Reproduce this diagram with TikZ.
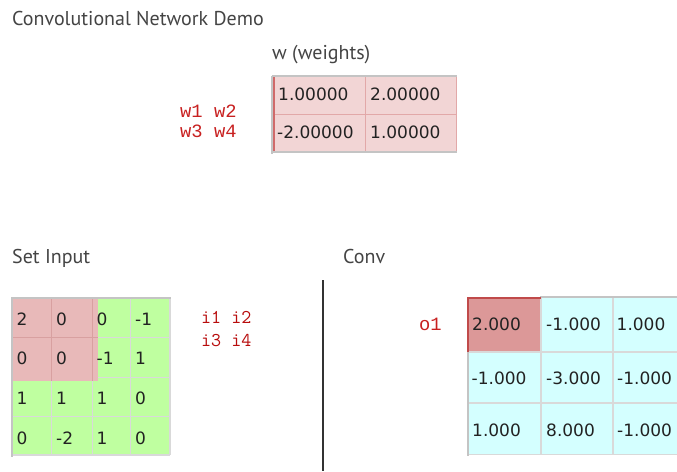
\documentclass[tikz,border=0pt]{standalone}
\usepackage{fontspec}
\newfontfamily\titlefont{PT Sans}
\newfontfamily\cellfont{DejaVu Sans}
\newfontfamily\labfont{Liberation Mono}
\definecolor{titlegray}{HTML}{444444}
\definecolor{celltext}{HTML}{222222}
\definecolor{labred}{HTML}{C82020}
\definecolor{ilabred}{HTML}{B80C0C}
\definecolor{wpink}{HTML}{F2D5D5}
\definecolor{wline}{HTML}{E2A8A8}
\definecolor{wred}{HTML}{D06A6A}
\definecolor{ingreen}{HTML}{BFFFA0}
\definecolor{inpink}{HTML}{E8B9B9}
\definecolor{inpinkline}{HTML}{D8A0A0}
\definecolor{gridgray}{HTML}{D9D9D9}
\definecolor{bordgray}{HTML}{C4C4C4}
\definecolor{convcyan}{HTML}{D4FFFF}
\definecolor{convpink}{HTML}{DC9898}
\definecolor{convred}{HTML}{C04A4A}
\definecolor{sepline}{HTML}{333333}
\begin{document}
\begin{tikzpicture}[x=1pt,y=-1pt,
  ttl/.style={anchor=base west, inner sep=0pt, text=titlegray, font=\titlefont\fontsize{20}{24}\selectfont},
  cell/.style={anchor=base west, inner sep=0pt, text=celltext, font=\cellfont\fontsize{17}{20}\selectfont},
  wlab/.style={anchor=base west, inner sep=0pt, text=labred, font=\labfont\fontsize{18.8}{21}\selectfont},
  ilab/.style={anchor=base west, inner sep=0pt, text=ilabred, font=\ttfamily\fontsize{19.5}{22}\selectfont},
  grid/.style={draw=gridgray, line width=1.2pt},
  bord/.style={draw=bordgray, line width=2pt},
]
\useasboundingbox[fill=white] (0,0) rectangle (677,471);

% titles
\node[ttl] (title) at (12,25.5) {Convolutional Network Demo};
\node[ttl] (wtitle) at (272,59) {w (weights)};
\node[ttl] (intitle) at (12,263) {Set Input};
\node[ttl] (convtitle) at (343,263) {Conv};

% ---------- weights table ----------
\fill[wpink] (272,76) rectangle (457,152);
\draw[draw=wline, line width=1.2pt] (365.5,76) -- (365.5,152);
\draw[draw=wline, line width=1.2pt] (272,114.3) -- (457,114.3);
\draw[draw=wline, line width=1.2pt] (456.5,76) -- (456.5,152);
\draw[bord, line width=1.5pt] (272,76) -- (457,76);
\draw[bord, line width=1.5pt] (272,152) -- (457,152);
\draw[bord, line width=1.2pt] (272,76) -- (272,154);
\draw[draw=wred, line width=2pt] (274,77) -- (274,151);
\node[cell] (w11) at (278,100.5) {1.00000};
\node[cell] (w12) at (370,100.5) {2.00000};
\node[cell] (w21) at (277,138) {-2.00000};
\node[cell] (w22) at (370,138) {1.00000};

\node[wlab] (wl1) at (180,117.3) {w1 w2};
\node[wlab] (wl2) at (180,137.3) {w3 w4};

% ---------- input table ----------
\fill[ingreen] (12,298) rectangle (170,455);
\foreach \x in {51.7,92.3,130.7,170}{\draw[grid] (\x,298) -- (\x,455);}
\foreach \y in {337.7,377.7,416.7,455}{\draw[grid] (12,\y) -- (170,\y);}
\fill[inpink] (12,298) rectangle (97.7,380.5);
\draw[draw=inpinkline, line width=1.2pt] (51.7,298) -- (51.7,380.5);
\draw[draw=inpinkline, line width=1.2pt] (92.3,298) -- (92.3,380.5);
\draw[draw=inpinkline, line width=1.2pt] (12,337.7) -- (97.7,337.7);
\draw[bord] (11,298) -- (171,298);
\draw[bord] (12,297) -- (12,457);

\foreach \v [count=\c] in {2,0,0,-1}{
  \pgfmathsetmacro\xx{{16.5,56,96.5,135}[\c-1]}
  \node[cell] (in1\c) at (\xx,325) {\v};}
\foreach \v [count=\c] in {0,0,-1,1}{
  \pgfmathsetmacro\xx{{16.5,56,96.5,135}[\c-1]}
  \node[cell] (in2\c) at (\xx,364) {\v};}
\foreach \v [count=\c] in {1,1,1,0}{
  \pgfmathsetmacro\xx{{16.5,56,96.5,135}[\c-1]}
  \node[cell] (in3\c) at (\xx,404) {\v};}
\foreach \v [count=\c] in {0,-2,1,0}{
  \pgfmathsetmacro\xx{{16.5,56,96.5,135}[\c-1]}
  \node[cell] (in4\c) at (\xx,444) {\v};}

\node[ilab] (il1) at (201,323.3) {i1 i2};
\node[ilab] (il2) at (201,346.7) {i3 i4};

% ---------- separator ----------
\coordinate (septop) at (323.3,280);
\coordinate (sepbot) at (323.3,471);
\draw[draw=sepline, line width=2pt] (septop) -- (sepbot);

% ---------- conv table ----------
\fill[convcyan] (467,297) rectangle (677,455);
\fill[convpink] (467,297) rectangle (541,352);
\foreach \x in {541,613}{\draw[grid] (\x,297) -- (\x,455);}
\foreach \y in {352,403,454.5}{\draw[grid] (467,\y) -- (677,\y);}
\draw[bord] (540,297) -- (677,297);
\draw[bord] (467.5,351) -- (467.5,456);
\draw[draw=convred, line width=2pt] (467.5,352) -- (467.5,297.5) -- (541,297.5);

\node[cell] (c11) at (472,330.5) {2.000};
\node[cell] (c12) at (546,330.5) {-1.000};
\node[cell] (c13) at (616.5,330.5) {1.000};
\node[cell] (c21) at (471.5,384) {-1.000};
\node[cell] (c22) at (546,384) {-3.000};
\node[cell] (c23) at (617,384) {-1.000};
\node[cell] (c31) at (472,436) {1.000};
\node[cell] (c32) at (546,436) {8.000};
\node[cell] (c33) at (617,436) {-1.000};

\node[wlab] (ol) at (419,330) {o1};
\end{tikzpicture}
\end{document}
